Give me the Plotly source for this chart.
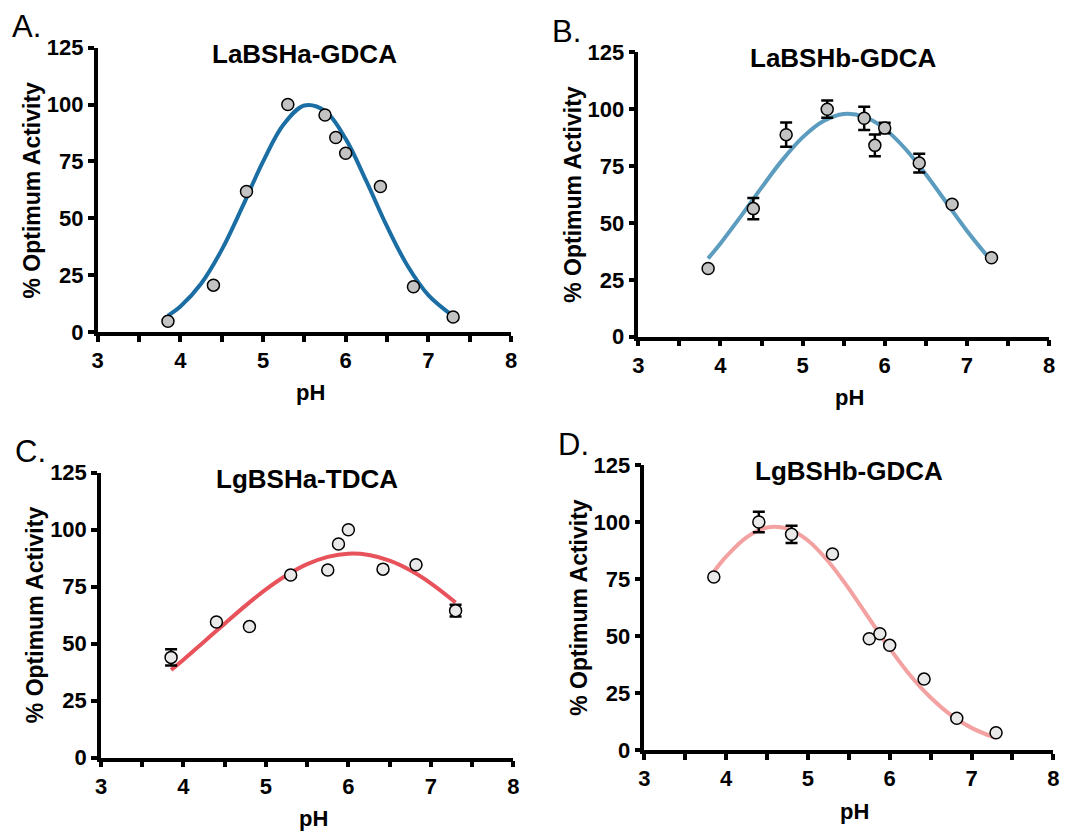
import plotly.graph_objects as go

# Measured pH values shared by all four assays
ph = [3.85, 4.4, 4.8, 5.3, 5.75, 5.88, 6.0, 6.42, 6.82, 7.3]

# % optimum activity per enzyme/substrate pair
la_a_gdca = [4.7, 20.6, 61.8, 100.0, 95.4, 85.5, 78.6, 64.0, 19.9, 6.6]
la_b_gdca = [30.0, 56.3, 88.8, 100.0, 96.0, 84.1, 91.7, 76.3, 58.2, 34.7]
la_b_err = [0, 4.7, 5.3, 3.8, 5.1, 4.8, 2.3, 4.1, 0, 0]
lg_a_tdca = [44.0, 59.5, 57.5, 80.1, 82.3, 93.7, 100.0, 82.7, 84.6, 64.5]
lg_a_err = [3.6, 0, 0, 0, 0, 0, 0, 0, 0, 2.6]
lg_b_gdca = [75.9, 100.0, 94.6, 86.0, 48.8, 51.0, 45.9, 31.1, 13.9, 7.6]
lg_b_err = [0, 4.5, 3.8, 0, 0, 0, 0, 0, 0, 0]

# Fitted curves, sampled along pH
fit_ph = [3.85, 4.0, 4.25, 4.5, 4.75, 5.0, 5.25, 5.5, 5.75, 6.0, 6.25, 6.5, 6.75, 7.0, 7.3]
fit_la_a = [7.2, 11.2, 21.2, 36.1, 55.0, 74.9, 91.3, 99.6, 97.2, 84.9, 66.3, 46.4, 29.0, 16.2, 7.0]
fit_la_b = [34.4, 41.0, 53.0, 65.5, 77.5, 87.6, 94.7, 97.9, 96.7, 91.4, 82.6, 71.4, 59.0, 46.6, 33.2]
fit_lg_a = [38.5, 43.0, 50.9, 58.8, 66.6, 73.8, 80.0, 84.9, 88.1, 89.5, 88.9, 86.4, 82.2, 76.5, 68.1]
fit_lg_b = [78.2, 84.8, 93.3, 97.6, 97.1, 91.9, 82.7, 70.8, 57.6, 44.6, 32.8, 23.0, 15.3, 9.7, 5.2]

titles = ["LaBSHa-GDCA", "LaBSHb-GDCA", "LgBSHa-TDCA", "LgBSHb-GDCA"]
letters = ["A.", "B.", "C.", "D."]
y_ticks = [0, 25, 50, 75, 100, 125]
x_ticks = [3, 4, 5, 6, 7, 8]

W, H = 1084, 834
# plot-area boxes in pixels: (left, right, top, bottom)
boxes = [
    (97.7, 511.0, 47.7, 332.0),
    (638.3, 1049.0, 52.3, 336.7),
    (101.0, 513.3, 472.7, 757.7),
    (644.3, 1053.3, 465.0, 750.0),
]

panels = [
    (la_a_gdca, None, fit_la_a, "#1a6ea3", "#c3c3c3"),
    (la_b_gdca, la_b_err, fit_la_b, "#5b9cbf", "#c3c3c3"),
    (lg_a_tdca, lg_a_err, fit_lg_a, "#e8535b", "#e9e9e9"),
    (lg_b_gdca, lg_b_err, fit_lg_b, "#f3a1a1", "#e9e9e9"),
]

FONT = "Liberation Sans, Arial, sans-serif"

fig = go.Figure()
layout = {}
annotations = []

for i, ((vals, err, fit, lc, mc), (l, r, t, b)) in enumerate(zip(panels, boxes)):
    n = "" if i == 0 else str(i + 1)
    xa, ya = "x" + n, "y" + n

    fig.add_trace(go.Scatter(
        x=fit_ph, y=fit, mode="lines", line=dict(color=lc, width=4, shape="spline", smoothing=1.0),
        xaxis=xa, yaxis=ya, showlegend=False, hoverinfo="skip"))

    err_cfg = dict(visible=False)
    if err is not None:
        err_cfg = dict(type="data", array=err, visible=True, color="black", thickness=2.5, width=6)
    fig.add_trace(go.Scatter(
        x=ph, y=vals, mode="markers", error_y=err_cfg,
        marker=dict(size=12, color=mc, line=dict(color="black", width=1.5)),
        xaxis=xa, yaxis=ya, showlegend=False))

    common = dict(showline=True, linecolor="black", linewidth=3.5, ticks="outside",
                  ticklen=6, tickwidth=3.5, tickcolor="black", showgrid=False, zeroline=False,
                  automargin=False,
                  tickfont=dict(family=FONT, size=22, color="black", weight="bold"))
    layout["xaxis" + n] = dict(
        domain=[l / W, r / W], range=[3, 8], anchor=ya, tickvals=x_ticks,
        minor=dict(dtick=0.5, ticks="outside", ticklen=6, tickwidth=3.5, tickcolor="black", showgrid=False),
        **common)
    layout["yaxis" + n] = dict(
        domain=[1 - b / H, 1 - t / H], range=[0, 125], anchor=xa, tickvals=y_ticks, **common)

    cx = (l + r) / 2
    # panel title
    annotations.append(dict(
        text=titles[i], x=cx / W, y=1 - (t + 6) / H, xref="paper", yref="paper",
        xanchor="center", yanchor="middle", showarrow=False,
        font=dict(family=FONT, size=26, color="black", weight="bold")))
    # panel letter
    annotations.append(dict(
        text=letters[i], x=(l - 88) / W, y=1 - (t - 21) / H, xref="paper", yref="paper",
        xanchor="left", yanchor="middle", showarrow=False,
        font=dict(family=FONT, size=31, color="black")))
    # x-axis title
    annotations.append(dict(
        text="pH", x=(cx + 6) / W, y=1 - (b + 61) / H, xref="paper", yref="paper",
        xanchor="center", yanchor="middle", showarrow=False,
        font=dict(family=FONT, size=22, color="black", weight="bold")))
    # y-axis title
    annotations.append(dict(
        text="% Optimum Activity", x=(l - 66) / W, y=1 - ((t + b) / 2) / H,
        xref="paper", yref="paper", xanchor="center", yanchor="middle",
        textangle=-90, showarrow=False,
        font=dict(family=FONT, size=23, color="black", weight="bold")))

fig.update_layout(
    width=W, height=H, autosize=False,
    margin=dict(l=0, r=0, t=0, b=0, pad=0, autoexpand=False),
    paper_bgcolor="white", plot_bgcolor="white",
    annotations=annotations, **layout)

fig.write_html("out.html")
